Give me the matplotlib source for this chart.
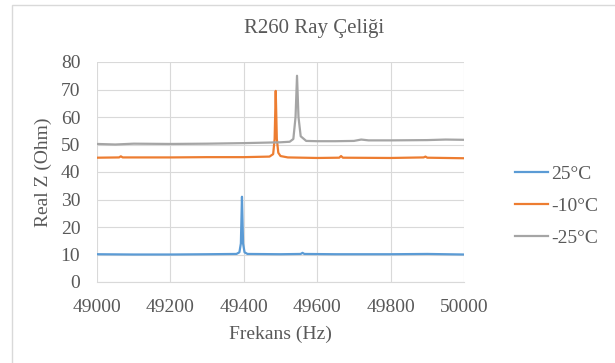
import matplotlib
matplotlib.use('Agg')
import matplotlib.pyplot as plt
from matplotlib.patches import Rectangle

plt.rcParams['font.family'] = ['Liberation Serif', 'DejaVu Serif']

# 25°C
freq_25 = [49000, 49100, 49200, 49300, 49380, 49388, 49392, 49395, 49398, 49402, 49410,
           49500, 49555, 49560, 49565, 49650, 49800, 49900, 50000]
z_25 = [10.1, 10.0, 10.0, 10.1, 10.2, 10.8, 14.0, 31.0, 14.0, 10.8, 10.2,
        10.1, 10.2, 10.6, 10.2, 10.1, 10.1, 10.2, 10.0]

# -10°C
freq_m10 = [49000, 49060, 49065, 49070, 49200, 49300, 49400, 49470, 49480, 49484, 49487,
            49490, 49494, 49500, 49520, 49600, 49660, 49665, 49670, 49800, 49890, 49895,
            49900, 50000]
z_m10 = [45.2, 45.3, 45.7, 45.3, 45.3, 45.4, 45.4, 45.6, 46.5, 52.0, 69.5,
         52.0, 47.0, 45.8, 45.3, 45.1, 45.2, 45.8, 45.2, 45.1, 45.3, 45.6,
         45.2, 45.0]

# -25°C
freq_m25 = [49000, 49050, 49100, 49200, 49300, 49400, 49500, 49525, 49535, 49541, 49545,
            49549, 49555, 49570, 49600, 49650, 49700, 49720, 49740, 49800, 49900, 49950, 50000]
z_m25 = [50.2, 50.0, 50.3, 50.2, 50.3, 50.5, 50.8, 51.0, 52.0, 60.0, 75.0,
         60.0, 53.0, 51.3, 51.2, 51.2, 51.3, 51.8, 51.5, 51.5, 51.6, 51.8, 51.7]

xticks = [49000, 49200, 49400, 49600, 49800, 50000]
yticks = [0, 10, 20, 30, 40, 50, 60, 70, 80]

txt = '#595959'
grid = '#D9D9D9'

fig = plt.figure(figsize=(6.15, 3.63), dpi=100)
ax = fig.add_axes([97/615, 1-282/363, (464-97)/615, (282-62)/363])

ax.plot(freq_25, z_25, color='#5B9BD5', lw=1.6, label='25°C')
ax.plot(freq_m10, z_m10, color='#ED7D31', lw=1.6, label='-10°C')
ax.plot(freq_m25, z_m25, color='#A5A5A5', lw=1.6, label='-25°C')

ax.set_xlim(49000, 50000)
ax.set_ylim(0, 80)
ax.set_xticks(xticks)
ax.set_yticks(yticks)
ax.grid(True, color=grid, lw=0.8)
ax.set_axisbelow(True)
for s in ['top', 'right', 'left']:
    ax.spines[s].set_visible(False)
ax.spines['bottom'].set_color(grid)
ax.tick_params(length=0, labelsize=14, colors=txt)
ax.tick_params(axis='y', pad=12)
ax.tick_params(axis='x', pad=12)

fig.text(314/615, 1-29/363, 'R260 Ray Çeliği', fontsize=15, color=txt,
         ha='center', va='center')
ax.set_xlabel('Frekans (Hz)', fontsize=14, color=txt, labelpad=7)
ax.set_ylabel('Real Z (Ohm)', fontsize=14, color=txt, labelpad=6)

leg = ax.legend(loc='upper left', bbox_to_anchor=(515/615, 1-165/363),
                bbox_transform=fig.transFigure, frameon=False, fontsize=14,
                handlelength=1.7, handletextpad=0.15, labelspacing=0.75,
                borderpad=0, borderaxespad=0)
for t in leg.get_texts():
    t.set_color(txt)

fig.patches.append(Rectangle((12/615, -0.1), 1.0, (363-5)/363 + 0.1,
                             transform=fig.transFigure, fill=False,
                             edgecolor=grid, lw=1.0))

fig.savefig('out.png', dpi=100)
